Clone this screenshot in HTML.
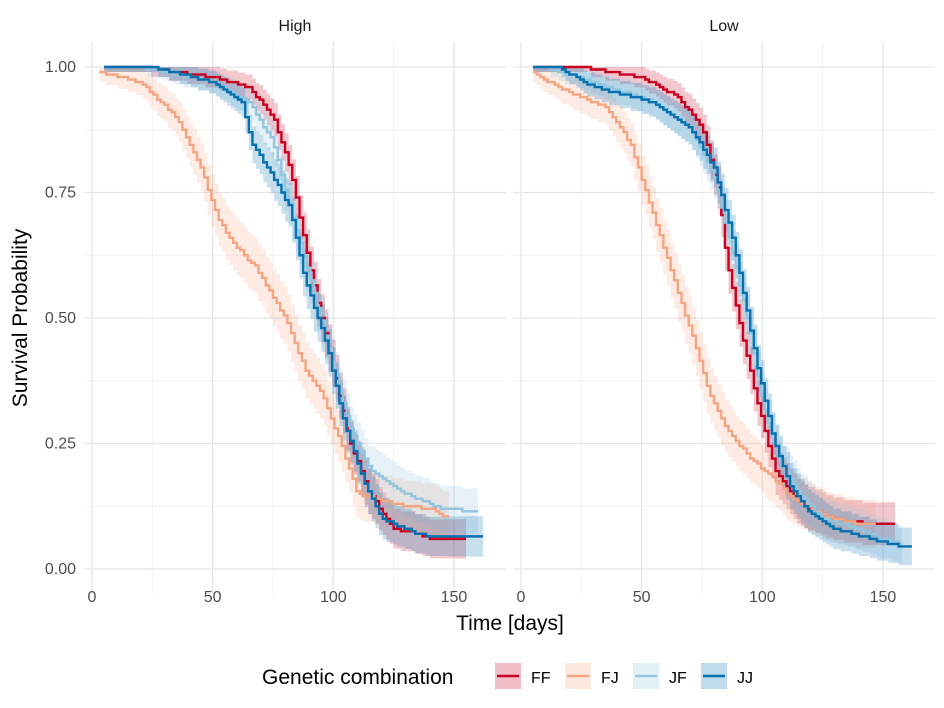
<!DOCTYPE html><html><head><meta charset="utf-8"><style>body{margin:0;background:#fff}svg{display:block}text{font-family:"Liberation Sans",sans-serif}</style></head><body>
<svg id="s" width="944" height="708" xmlns="http://www.w3.org/2000/svg"></svg>
<script>
const S=document.getElementById('s');let h='';
const P=[{x0:92,L:84,R:506},{x0:521,L:513,R:935}];
const k=2.413,yy=v=>569-502*v;
P.forEach((p,i)=>{
 [25,75,125].forEach(t=>h+=`<line x1="${p.x0+t*k}" x2="${p.x0+t*k}" y1="42" y2="594" stroke="#f3f3f3" stroke-width="1"/>`);
 [0.125,0.375,0.625,0.875].forEach(v=>h+=`<line x1="${p.L}" x2="${p.R}" y1="${yy(v)}" y2="${yy(v)}" stroke="#f3f3f3"/>`);
 [0,50,100,150].forEach(t=>{h+=`<line x1="${p.x0+t*k}" x2="${p.x0+t*k}" y1="42" y2="594" stroke="#e6e6e6" stroke-width="1.3"/>`;h+=`<text x="${p.x0+t*k}" y="602" font-size="16" fill="#4d4d4d" text-anchor="middle">${t}</text>`});
 [0,0.25,0.5,0.75,1].forEach(v=>h+=`<line x1="${p.L}" x2="${p.R}" y1="${yy(v)}" y2="${yy(v)}" stroke="#e6e6e6" stroke-width="1.3"/>`);
 h+=`<text x="${(p.L+p.R)/2}" y="31" font-size="16" fill="#1a1a1a" text-anchor="middle">${i?'Low':'High'}</text>`;
});
[0,0.25,0.5,0.75,1].forEach(v=>h+=`<text x="76" y="${yy(v)+5}" font-size="16" fill="#4d4d4d" text-anchor="end">${v.toFixed(2)}</text>`);
const C={FF:'#CA0020',FJ:'#F4A582',JF:'#92C5DE',JJ:'#0571B0'};
const D=[{
FF:[[5,1],[20,1],[50,.98],[65,.96],[75,.9],[82,.8],[88,.65],[95,.5],[100,.4],[107,.25],[115,.15],[125,.08],[135,.07],[140,.06],[155,.06]],
FJ:[[3,.99],[20,.97],[35,.9],[45,.8],[52,.7],[58,.65],[68,.6],[80,.5],[88,.4],[95,.35],[103,.25],[110,.15],[125,.13],[140,.12],[148,.1]],
JF:[[5,1],[20,1],[50,.97],[65,.93],[75,.85],[83,.7],[92,.55],[100,.4],[107,.28],[115,.2],[130,.15],[145,.12],[160,.115]],
JJ:[[5,1],[25,1],[50,.97],[62,.93],[66,.85],[75,.78],[82,.72],[88,.58],[97,.45],[104,.3],[112,.18],[120,.1],[135,.07],[140,.065],[162,.065]]},{
FF:[[5,1],[25,1],[50,.98],[65,.94],[75,.88],[82,.75],[85,.62],[90,.5],[97,.35],[105,.2],[115,.13],[130,.1],[145,.09],[155,.09]],
FJ:[[5,.99],[15,.96],[35,.92],[45,.85],[55,.7],[65,.55],[72,.45],[78,.35],[85,.28],[95,.22],[105,.18],[110,.15],[120,.12],[130,.1],[140,.09],[147,.09]],
JF:[[5,1],[10,1],[30,.97],[55,.93],[70,.88],[80,.78],[88,.62],[95,.47],[100,.33],[107,.22],[115,.15],[125,.1],[140,.08],[150,.06],[158,.05]],
JJ:[[5,1],[15,1],[30,.96],[55,.93],[70,.88],[80,.8],[88,.65],[92,.55],[98,.4],[105,.25],[112,.16],[120,.11],[130,.08],[145,.06],[158,.045],[162,.045]]}];
function f(pts,t){for(let j=1;j<pts.length;j++)if(t<=pts[j][0]){const a=pts[j-1],b=pts[j];return a[1]+(b[1]-a[1])*(t-a[0])/(b[0]-a[0]);}return pts[pts.length-1][1];}
const lines=[];
D.forEach((d,i)=>{const x0=P[i].x0;
 for(const g of ['FF','FJ','JF','JJ']){const pts=d[g];const t0=pts[0][0],t1=pts[pts.length-1][0];
  let up=[],lo=[],ln='';let first=true;
  for(let t=t0;t<=t1+0.01;t+=1.5){let v=Math.round(f(pts,t)*200)/200;const w=0.01+0.075*Math.sqrt(v*(1-v))*(g=='FJ'?1.25:1)+(v<0.2?0.012*(t/160):0);
   const x=x0+t*k;
   if(first){ln+=`M${x},${yy(v)}`;first=false;}else{ln+=`H${x}V${yy(v)}`;}
   up.push([x,yy(Math.min(1,v+w))]);lo.push([x,yy(Math.max(0,v-w))]);}
  const xe=x0+t1*k;
  let a=`M${up[0][0]},${up[0][1]}`;
  for(let j=1;j<up.length;j++)a+=`H${up[j][0]}V${up[j][1]}`;
  a+=`H${xe}V${lo[lo.length-1][1]}`;
  for(let j=lo.length-1;j>0;j--)a+=`H${lo[j][0]}V${lo[j-1][1]}`;
  a+=`H${lo[0][0]}`;
  h+=`<path d="${a}Z" fill="${C[g]}" opacity="0.22"/>`;
  ln+=`H${xe}`;
  lines.push(`<path d="${ln}" fill="none" stroke="${C[g]}" stroke-width="2.4"/>`);
 }});
h+=lines.join('');
h+=`<text x="0" y="0" font-size="21" fill="#000" text-anchor="middle" transform="translate(27,318) rotate(-90)">Survival Probability</text>`;
h+=`<text x="510" y="630" font-size="21" text-anchor="middle">Time [days]</text>`;
h+=`<text x="262" y="684" font-size="21">Genetic combination</text>`;
[['FF',495],['FJ',565],['JF',633],['JJ',701]].forEach(([g,x])=>{h+=`<rect x="${x}" y="663" width="26" height="26" fill="${C[g]}" opacity="0.25"/><line x1="${x+2}" x2="${x+24}" y1="676" y2="676" stroke="${C[g]}" stroke-width="2.4"/><text x="${x+36}" y="683" font-size="16">${g}</text>`;});
S.innerHTML=h;
</script></body></html>
